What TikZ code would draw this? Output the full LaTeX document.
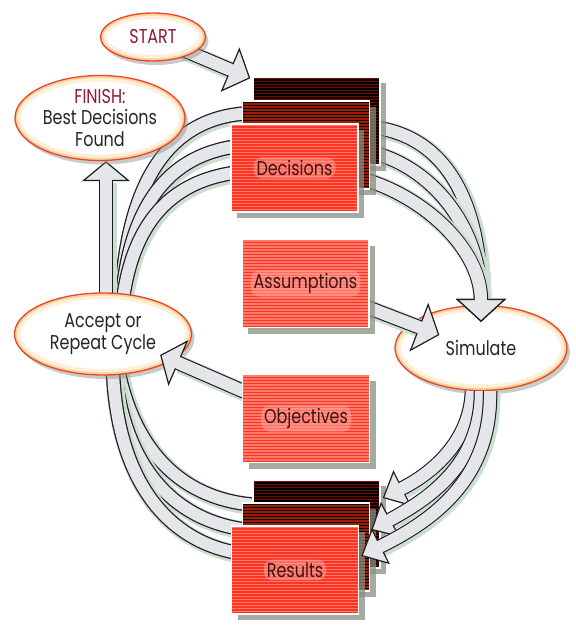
\documentclass[tikz,border=0pt]{standalone}
\usepackage{fontspec}
\setmainfont{Poppins}[FakeStretch=0.8]
\usetikzlibrary{arrows.meta, shapes.geometric, shadows}

\pgfdeclarelayer{back}
\pgfdeclarelayer{front}
\pgfdeclarelayer{top}
\pgfsetlayers{back,main,front,top}

% Grey bands with a black rim
\newcommand{\band}[1]{%
    \draw[bandglow] #1;
    \draw[bandout] #1;
    \draw[bandin] #1;
}
% Same band, ending in a block head: tip length, tip width, path
\newcommand{\bandarrow}[3]{%
    \draw[bandglow, shorten >=#1] #3;
    \draw[bandout, shorten >=#1-2pt] #3;
    \draw[bandin, -{Triangle[length=#1, width=#2, line width=1.2pt, color=bandLine, fill=bandFill]}] #3;
    \draw[bandin, shorten >=#1-3pt] #3;
}

\tikzset{
    bandglow/.style={draw=glowGreen, line width=18pt, transform canvas={shift={(1.5pt,-1.5pt)}}},
    bandout/.style={draw=bandLine, line width=14.5pt},
    bandin/.style={draw=bandFill, line width=12pt},
    ellnode/.style 2 args={ellipse, minimum width=#1, minimum height=#2, inner sep=0pt,
        fill=white, draw=ellRed, line width=1.3pt, text=darkText, align=center,
        font=\fontsize{20}{21.5}\selectfont,
        drop shadow={shadow xshift=3pt, shadow yshift=-4pt, fill=shadowGrey, opacity=0.45},
        path picture={
            \draw[ringPale, line width=12pt] (path picture bounding box.center) ellipse [x radius=#1/2, y radius=#2/2];
            \draw[ringTan, line width=5pt] (path picture bounding box.center) ellipse [x radius=#1/2, y radius=#2/2];
        }},
    card/.style 2 args={rectangle, minimum width=127pt, minimum height=88pt, inner sep=0pt,
        fill=#1, draw=white, line width=1.5pt,
        drop shadow={shadow xshift=6pt, shadow yshift=-6pt, fill=shadowGrey, opacity=0.75},
        path picture={
            \foreach \k in {1.5,4.5,...,90}
                \draw[#2, line width=1.2pt] ([yshift=-\k pt]path picture bounding box.north west) -- ([yshift=-\k pt]path picture bounding box.north east);
        }},
    redcard/.style={card={boxRed}{boxPink}},
    darkcard/.style={card={black}{darkRed}},
    midcard/.style={card={midRed}{black}},
    glowlabel/.style={fill=boxGlow, fill opacity=0.5, text opacity=1, rounded corners=9pt,
        inner sep=3pt, text=boxText, font=\fontsize{20}{21.5}\selectfont},
}

\begin{document}
\begin{tikzpicture}[x=1pt, y=-1pt]
    % Define colours
    \definecolor{bandLine}{HTML}{1E1E1E}
    \definecolor{bandFill}{HTML}{E4E6EA}
    \definecolor{glowGreen}{HTML}{CCDDD2}
    \definecolor{shadowGrey}{HTML}{858F80}
    \definecolor{boxRed}{HTML}{FF3322}
    \definecolor{boxPink}{HTML}{FF7A6A}
    \definecolor{boxGlow}{HTML}{FFA8A0}
    \definecolor{darkRed}{HTML}{7A0800}
    \definecolor{midRed}{HTML}{A01A05}
    \definecolor{ellRed}{HTML}{E8452C}
    \definecolor{ringTan}{HTML}{FAD29C}
    \definecolor{ringPale}{HTML}{FEEFDA}
    \definecolor{redText}{HTML}{8E1838}
    \definecolor{darkText}{HTML}{262626}
    \definecolor{boxText}{HTML}{3A1212}

    \useasboundingbox (0,0) rectangle (575,628);

    % Ellipses
    \node[ellnode={105}{48}] (start) at (153,37) {\color{redText}START};
    \node[ellnode={170}{85}] (finish) at (100,118) {{\color{redText}FINISH:}\\Best Decisions\\Found};
    \node[ellnode={177}{82}] (accept) at (103,334) {Accept or\\Repeat Cycle};
    \node[ellnode={172}{85}] (sim) at (481,348) {Simulate};

    % Stacked cards
    \begin{pgfonlayer}{top}
        \node[darkcard] (dec3) at (316.5,121) {};
        \node[midcard] (dec2) at (306,145) {};
        \node[redcard, label={[glowlabel]center:Decisions}] (dec1) at (294.5,168) {};
        \node[redcard, label={[glowlabel]center:Assumptions}] (assum) at (305.5,283.5) {};
        \node[redcard, label={[glowlabel]center:Objectives}] (obj) at (306,418.5) {};
    \end{pgfonlayer}
    \node[darkcard] (res3) at (316.5,524) {};
    \node[midcard] (res2) at (306,547) {};
    \node[redcard, label={[glowlabel]center:Results}] (res1) at (295,570) {};

    % Bands on the left
    \begin{pgfonlayer}{back}
        \band{([xshift=17pt]accept.center) .. controls +(0,-150) and +(-90,0) .. ([xshift=5pt,yshift=8pt]dec3.west)}
        \band{([xshift=17pt]accept.center) .. controls +(2,-130) and +(-80,5) .. ([xshift=8pt]dec2.west)}
        \band{([xshift=17pt]accept.center) .. controls +(4,-110) and +(-70,8) .. ([xshift=10pt,yshift=-4pt]dec1.west)}
        \band{([xshift=10pt]accept.center) .. controls +(10,110) and +(-80,-5) .. ([xshift=5pt,yshift=19pt]res3.west)}
        \band{([xshift=10pt]accept.center) .. controls +(0,125) and +(-80,-8) .. ([xshift=8pt,yshift=17pt]res2.west)}
        \band{([xshift=10pt]accept.center) .. controls +(-6,140) and +(-80,-10) .. ([xshift=14pt,yshift=16pt]res1.west)}
        \bandarrow{22pt}{48pt}{(start.center) -- ([xshift=-2pt,yshift=-2pt]dec3.north west)}
        \bandarrow{20pt}{48pt}{([xshift=3pt]accept.center) -- ([xshift=6pt]finish.south)}
    \end{pgfonlayer}

    % Bands on the right
    \begin{pgfonlayer}{front}
        \bandarrow{23pt}{50pt}{([xshift=-10pt,yshift=-6pt]dec3.east) .. controls +(75,8) and +(0,-120) .. ([yshift=-17pt]sim.north)}
        \bandarrow{23pt}{50pt}{([xshift=-10pt,yshift=-5pt]dec2.east) .. controls +(65,10) and +(0,-100) .. ([yshift=-17pt]sim.north)}
        \bandarrow{23pt}{50pt}{([xshift=-10pt,yshift=-8pt]dec1.east) .. controls +(60,10) and +(0,-80) .. ([yshift=-17pt]sim.north)}
        \bandarrow{22pt}{40pt}{([xshift=-9pt]sim.south) .. controls +(-2,50) and +(50,-25) .. ([xshift=2pt,yshift=26pt]res3.east)}
        \bandarrow{22pt}{40pt}{(sim.south) .. controls +(0,75) and +(55,-30) .. ([xshift=1pt,yshift=17pt]res2.east)}
        \bandarrow{22pt}{40pt}{([xshift=9pt]sim.south) .. controls +(2,95) and +(60,-30) .. ([xshift=2pt,yshift=14pt]res1.east)}
        \bandarrow{22pt}{52pt}{(assum.center) -- ([xshift=45pt,yshift=13pt]sim.west)}
        \bandarrow{20pt}{50pt}{(obj.center) -- ([xshift=-32pt,yshift=-21pt]accept.east)}
    \end{pgfonlayer}
\end{tikzpicture}
\end{document}
